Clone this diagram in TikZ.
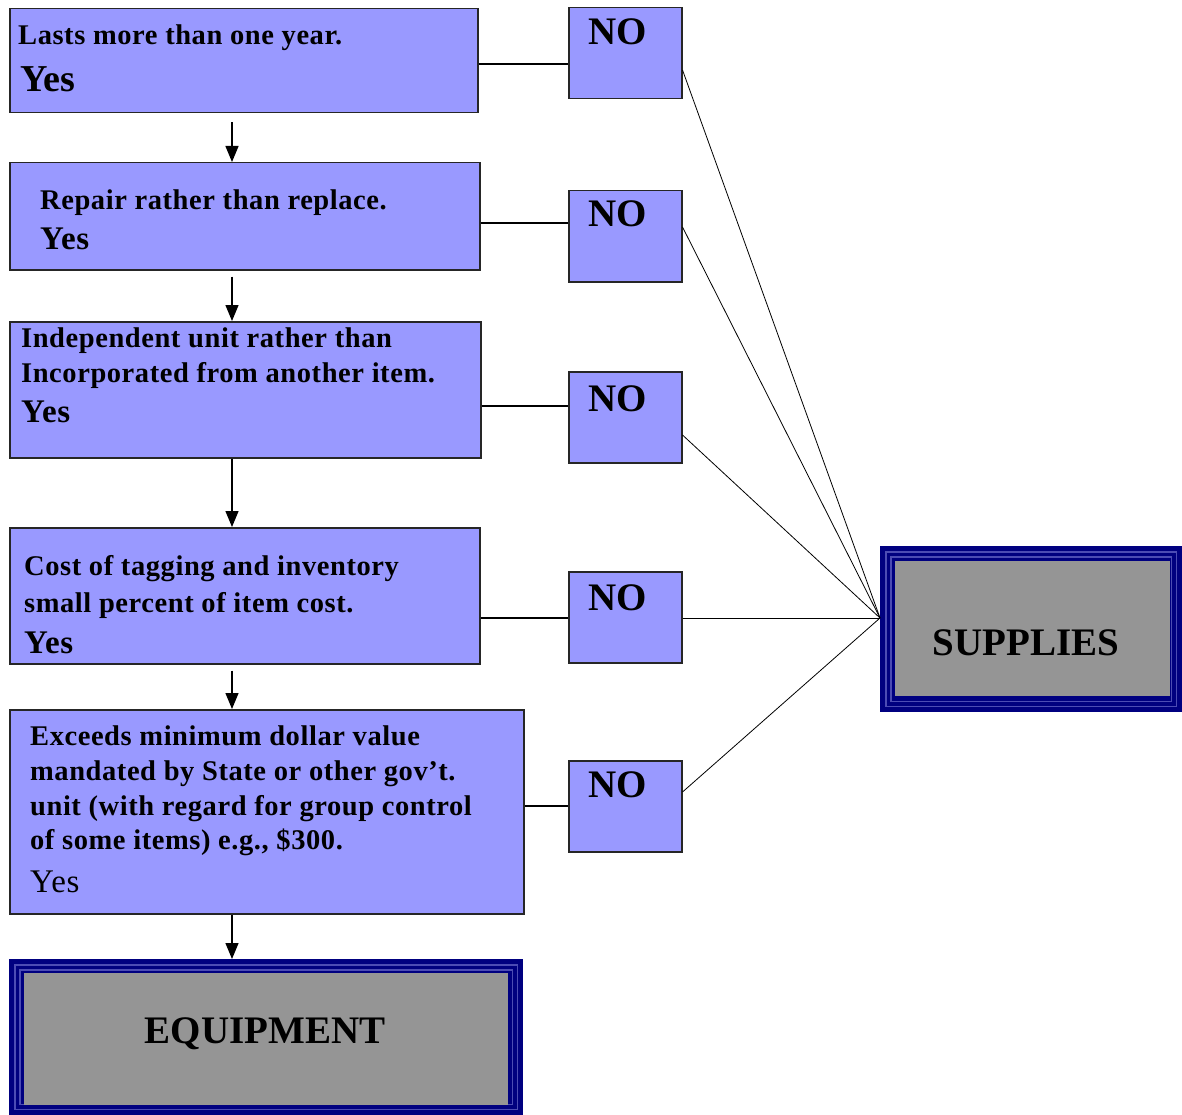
\documentclass[tikz,border=0pt]{standalone}
\usepackage{fontspec}
\setmainfont{Liberation Serif}
\newfontfamily\spacedserif[LetterSpace=2.0]{Liberation Serif}
\usetikzlibrary{arrows.meta,calc}
\definecolor{boxblue}{HTML}{9999FF}
\definecolor{navyb}{HTML}{000080}
\definecolor{stripe}{HTML}{4C4CB4}
\definecolor{greyfill}{HTML}{959595}
\tikzset{
  qbox/.style={draw=black!85, line width=1.5pt, fill=boxblue, anchor=north west, inner sep=0pt},
  nobox/.style={draw=black!85, line width=1.5pt, fill=boxblue, anchor=north west, inner sep=0pt, minimum width=113pt, minimum height=91pt},
  txt/.style={anchor=base west, inner sep=0pt, font=\spacedserif\fontsize{28.5}{34}\selectfont\bfseries},
  yestxt/.style={anchor=base west, inner sep=0pt, font=\spacedserif\fontsize{33}{38}\selectfont\bfseries},
  notxt/.style={anchor=base west, inner sep=0pt, font=\fontsize{39}{44}\selectfont\bfseries},
  bigtxt/.style={anchor=base, inner sep=0pt, font=\fontsize{39}{44}\selectfont\bfseries},
  link/.style={draw=black, line width=1.1pt},
  diag/.style={draw=black, line width=0.8pt},
  flow/.style={draw=black, line width=1.3pt, -{Triangle[width=13pt,length=16pt]}},
  outerband/.style={fill=navyb, anchor=north west, inner sep=0pt},
}
\begin{document}
\begin{tikzpicture}[x=1pt,y=-1pt]
\useasboundingbox (0,0) rectangle (1182,1115);

% question boxes
\node[qbox, minimum width=468pt, minimum height=104pt] (b1) at (9,8) {};
\node[qbox, minimum width=470pt, minimum height=107pt] (b2) at (9,162) {};
\node[qbox, minimum width=471pt, minimum height=136pt] (b3) at (9,321) {};
\node[qbox, minimum width=470pt, minimum height=136pt] (b4) at (9,527) {};
\node[qbox, minimum width=514pt, minimum height=204pt] (b5) at (9,709) {};

% NO boxes
\node[nobox] (n1) at (568,7) {};
\node[nobox] (n2) at (568,190) {};
\node[nobox] (n3) at (568,371) {};
\node[nobox] (n4) at (568,571) {};
\node[nobox] (n5) at (568,760) {};

% texts
\node[txt] (t1a) at (18,45) {Lasts more than one year.};
\node[txt, font=\fontsize{38}{44}\selectfont\bfseries] (t1b) at (20,92) {Yes};
\node[txt] (t2a) at (40,210) {Repair rather than replace.};
\node[yestxt] (t2b) at (40,250) {Yes};
\node[txt] (t3a) at (21,347) {Independent unit rather than};
\node[txt] (t3b) at (21,382) {Incorporated from another item.};
\node[yestxt] (t3c) at (21,422) {Yes};
\node[txt] (t4a) at (24,575) {Cost of tagging and inventory};
\node[txt] (t4b) at (24,612) {small percent of item cost.};
\node[yestxt] (t4c) at (24,653) {Yes};
\node[txt] (t5a) at (30,745) {Exceeds minimum dollar value};
\node[txt] (t5b) at (30,780) {mandated by State or other gov’t.};
\node[txt] (t5c) at (30,815) {unit (with regard for group control};
\node[txt] (t5d) at (30,849) {of some items) e.g., \$300.};
\node[yestxt, font=\spacedserif\fontsize{33}{38}\selectfont] (t5e) at (30,892) {Yes};

\node[notxt] (no1) at ($(n1.north west)+(20,38)$) {NO};
\node[notxt] (no2) at ($(n2.north west)+(20,37)$) {NO};
\node[notxt] (no3) at ($(n3.north west)+(20,40)$) {NO};
\node[notxt] (no4) at ($(n4.north west)+(20,39)$) {NO};
\node[notxt] (no5) at ($(n5.north west)+(20,37)$) {NO};

% SUPPLIES box
\node[outerband, minimum width=302pt, minimum height=166pt] (sup) at (880,546) {};
\draw[stripe, line width=1.6pt] ($(sup.north west)+(6,6)$) rectangle ($(sup.south east)+(-6,-6)$);
\draw[stripe, line width=1.4pt] ($(sup.north west)+(11,11)$) rectangle ($(sup.south east)+(-11,-11)$);
\fill[greyfill] ($(sup.north west)+(15,15)$) rectangle ($(sup.south east)+(-12,-16)$);
\node[bigtxt] (suptxt) at (1026,655) {SUPPLIES};

% EQUIPMENT box
\node[outerband, minimum width=514pt, minimum height=156pt] (eq) at (9,959) {};
\draw[stripe, line width=1.6pt] ($(eq.north west)+(6,6)$) rectangle ($(eq.south east)+(-6,-6)$);
\draw[stripe, line width=1.4pt] ($(eq.north west)+(11,11)$) rectangle ($(eq.south east)+(-11,-11)$);
\fill[greyfill] ($(eq.north west)+(15,14)$) rectangle ($(eq.south east)+(-15,-10)$);
\node[bigtxt] (eqtxt) at (265,1043) {EQUIPMENT};

% helper coordinates
\coordinate (ax) at (232,0);
\coordinate (y1) at (0,64);
\coordinate (y2) at (0,223);
\coordinate (y3) at (0,406);
\coordinate (y4) at (0,618);
\coordinate (y5) at (0,806);
\coordinate (hub) at (sup.west |- y4);
\coordinate (d1) at (0,70);
\coordinate (d2) at (0,227);
\coordinate (d3) at (0,435);
\coordinate (d5) at (0,792);

% horizontal links to NO boxes
\draw[link] (b1.east |- y1) -- (n1.west |- y1);
\draw[link] (b2.east |- y2) -- (n2.west |- y2);
\draw[link] (b3.east |- y3) -- (n3.west |- y3);
\draw[link] (b4.east |- y4) -- (n4.west |- y4);
\draw[link] (b5.east |- y5) -- (n5.west |- y5);

% NO boxes to SUPPLIES
\draw[diag] (n1.east |- d1) -- (hub);
\draw[diag] (n2.east |- d2) -- (hub);
\draw[diag] (n3.east |- d3) -- (hub);
\draw[diag] (n4.east |- y4) -- (hub);
\draw[diag] (n5.east |- d5) -- (hub);

% flow arrows
\draw[flow, shorten <=9pt] (b1.south -| ax) -- (b2.north -| ax);
\draw[flow, shorten <=6pt] (b2.south -| ax) -- (b3.north -| ax);
\draw[flow] (b3.south -| ax) -- (b4.north -| ax);
\draw[flow, shorten <=6pt] (b4.south -| ax) -- (b5.north -| ax);
\draw[flow] (b5.south -| ax) -- (eq.north -| ax);
\end{tikzpicture}
\end{document}
